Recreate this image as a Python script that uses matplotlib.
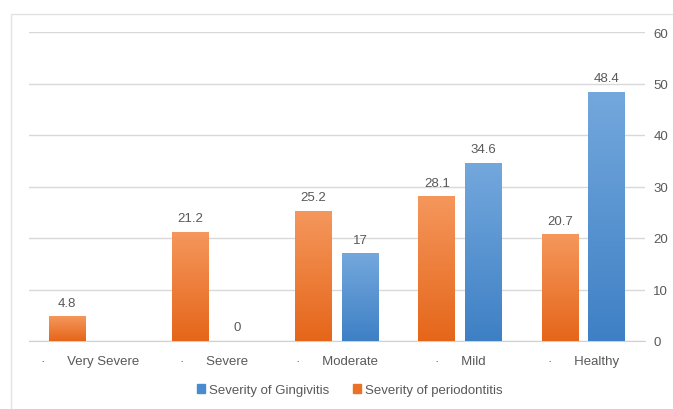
import matplotlib.pyplot as plt
import matplotlib.patches as patches
import numpy as np
from matplotlib.colors import LinearSegmentedColormap

plt.rcParams['font.family'] = ['Liberation Sans', 'DejaVu Sans']

categories = ['Very Severe', 'Severe', 'Moderate', 'Mild', 'Healthy']
periodontitis = [4.8, 21.2, 25.2, 28.1, 20.7]
gingivitis = [None, 0, 17, 34.6, 48.4]
y_ticks = [0, 10, 20, 30, 40, 50, 60]

TEXT = '#595959'
GRID = '#d9d9d9'
ORANGE = ('#f5975c', '#e5661a')   # top, bottom
BLUE = ('#74a8dd', '#3e80c5')

fig = plt.figure(figsize=(6.73, 4.10), dpi=100)
fig.patch.set_facecolor('white')

# light frame around the chart area
frame = patches.Rectangle((11 / 673, -0.1), 1.2, 1 - 15 / 410 + 0.1,
                          transform=fig.transFigure, fill=False,
                          edgecolor='#e3e3e3', linewidth=1.0)
fig.add_artist(frame)

ax = fig.add_axes([29 / 673, 1 - 342 / 410, 616 / 673, 309 / 410])

x = np.arange(len(categories))
w = 0.30
off = 0.19


def gradient_bars(xs, vals, cols):
    cmap = LinearSegmentedColormap.from_list('g', [cols[1], cols[0]])
    grad = np.linspace(0, 1, 256).reshape(-1, 1)
    for xi, v in zip(xs, vals):
        if v is None:
            continue
        bar = ax.bar(xi, v, width=w, color=cols[1], linewidth=0, zorder=2)[0]
        if v > 0:
            im = ax.imshow(grad, cmap=cmap, origin='lower', aspect='auto',
                           extent=[xi - w / 2, xi + w / 2, 0, v], zorder=3)
            im.set_clip_path(bar)
        ax.text(xi, v + 1.5, f'{v:g}', ha='center', va='bottom',
                fontsize=9.5, color=TEXT)


gradient_bars(x - off, periodontitis, ORANGE)
gradient_bars(x + off, gingivitis, BLUE)
ax.set_xlim(-0.5, 4.5)
ax.set_ylim(0, 60)

ax.set_yticks(y_ticks)
ax.yaxis.tick_right()
ax.tick_params(axis='y', length=0, pad=6, labelsize=9.5, labelcolor=TEXT)
ax.grid(axis='y', color=GRID, linewidth=1.0, zorder=0)
ax.set_axisbelow(True)

ax.set_xticks(x)
ax.set_xticklabels(['·      ' + c for c in categories])
ax.tick_params(axis='x', length=0, pad=10, labelsize=9.5, labelcolor=TEXT)

for s in ['top', 'left', 'right']:
    ax.spines[s].set_visible(False)
ax.spines['bottom'].set_color('#d0d0d0')

handles = [patches.Patch(color='#4a8bd0', label='Severity of Gingivitis'),
           patches.Patch(color='#ea7125', label='Severity of periodontitis')]
fig.legend(handles=handles, loc='center', bbox_to_anchor=(350 / 673, 1 - 391 / 410),
           ncol=2, frameon=False, fontsize=9.5, handlelength=0.6, handleheight=0.6,
           handletextpad=0.3, columnspacing=1.8, labelcolor=TEXT)

fig.savefig('out.png', dpi=100, facecolor='white')
